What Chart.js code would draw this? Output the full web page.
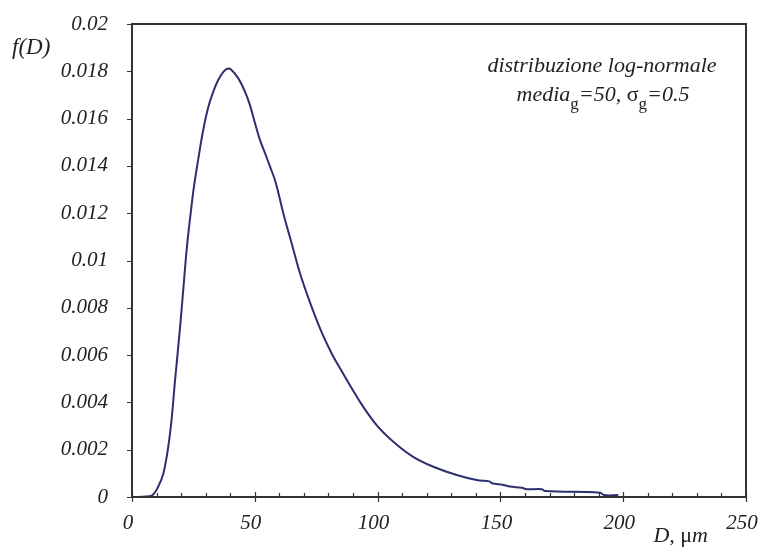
<!DOCTYPE html>
<html>
<head>
<meta charset="utf-8">
<script src="https://cdn.jsdelivr.net/npm/chart.js@4"></script>
<style>
  html, body { margin: 0; padding: 0; background: #fff; }
  #wrap { width: 760px; height: 548px; }
</style>
</head>
<body>
<div id="wrap"><canvas id="c" width="760" height="548"></canvas></div>
<script>
// values (D in µm, f(D))
const diameters = [2.5, 7, 8.5, 10, 12.8, 15.5, 17.5, 19.5, 20.9, 22.3, 24, 25.2, 27, 29, 31.1, 33.1, 35.1, 37.2, 38.8, 40.2,
  43.3, 46, 48, 50.1, 52.1, 54.2, 56.2, 58.5, 61.6, 65, 68.4, 72.5, 77.2, 81.3, 84.7, 92.8, 99.6, 106.4, 114.5, 122.7,
  132.2, 140.3, 145.8, 146.5, 151.2, 153.9, 158.7, 160.7, 166.8, 168.2, 190.6, 192.2, 198];
const density = [0, 0.00003, 0.0001, 0.0003, 0.001, 0.0027, 0.0049, 0.0071, 0.0088, 0.0105, 0.0121, 0.0131, 0.0143, 0.01552, 0.0165, 0.01714, 0.01763, 0.01798, 0.01811, 0.01809,
  0.0177, 0.01714, 0.01658, 0.0158, 0.0151, 0.01453, 0.01397, 0.0133, 0.012, 0.01073, 0.00946, 0.00822, 0.00697, 0.00607, 0.00544, 0.00403, 0.00304, 0.00234, 0.0017, 0.00128,
  0.00093, 0.00072, 0.00065, 0.00058, 0.00051, 0.00044, 0.00039, 0.00033, 0.00033, 0.00025, 0.00018, 0.00008, 0.00008];
const xRange = [0, 250], xStep = 50, xMinor = 10;
const yRange = [0, 0.02], yStep = 0.002;

const SERIF = "'Liberation Serif', 'DejaVu Serif', serif";
const INK = '#222';
const fmtY = (v) => String(+(+v).toFixed(3));

// box round the plot + the little tick marks (major ones cross the x axis, minor ones point inward)
const frame = {
  id: 'frame',
  afterDatasetsDraw(chart) {
    const { ctx, chartArea: a, scales: { x, y } } = chart;
    ctx.save();
    ctx.strokeStyle = '#333'; ctx.lineWidth = 2;
    ctx.strokeRect(a.left, a.top, a.right - a.left, a.bottom - a.top);
    ctx.lineWidth = 1.2; ctx.beginPath();
    for (let v = xRange[0]; v <= xRange[1]; v += xMinor) {
      const px = Math.round(x.getPixelForValue(v)) + 0.5;
      if (v % xStep === 0) { ctx.moveTo(px, a.bottom - 5); ctx.lineTo(px, a.bottom + 5); }
      else { ctx.moveTo(px, a.bottom - 4); ctx.lineTo(px, a.bottom); }
    }
    for (let i = 0; i <= Math.round((yRange[1] - yRange[0]) / yStep); i++) {
      const py = Math.round(y.getPixelForValue(yRange[0] + i * yStep)) + 0.5;
      ctx.moveTo(a.left - 5, py); ctx.lineTo(a.left, py);
    }
    ctx.stroke();
    ctx.restore();
  },
};

// axis names and the note in the top right corner
const notes = {
  id: 'notes',
  afterDraw(chart) {
    const { ctx } = chart;
    ctx.save();
    ctx.fillStyle = INK; ctx.textBaseline = 'alphabetic';
    const run = (parts, x, y, align) => {
      // parts: [text, font, dy]
      const w = parts.reduce((s, p) => { ctx.font = p[1]; return s + ctx.measureText(p[0]).width; }, 0);
      let cx = align === 'center' ? x - w / 2 : align === 'right' ? x - w : x;
      parts.forEach((p) => { ctx.font = p[1]; ctx.textAlign = 'left'; ctx.fillText(p[0], cx, y + (p[2] || 0)); cx += ctx.measureText(p[0]).width; });
    };
    const it = `italic 22px ${SERIF}`, up = `22px ${SERIF}`, sub = `17px ${SERIF}`;
    run([['f(D)', `italic 23px ${SERIF}`]], 12, 54, 'left');
    run([['distribuzione log-normale', it]], 602, 72, 'center');
    run([['media', it], ['g', sub, 8], ['=50, ', it], ['σ', up], ['g', sub, 8], ['=0.5', it]], 603, 101, 'center');
    run([['D, ', it], ['μ', up], ['m', it]], 708, 542, 'right');
    ctx.restore();
  },
};

new Chart(document.getElementById('c'), {
  type: 'scatter',
  data: {
    datasets: [{
      data: diameters.map((d, i) => ({ x: d, y: density[i] })),
      showLine: true, borderColor: '#2d2f6f', borderWidth: 2, pointRadius: 0,
      tension: 0.4, clip: 4,
    }],
  },
  options: {
    responsive: false, animation: false,
    layout: { padding: { top: 24, right: 14, left: 0, bottom: 0 } },
    plugins: { legend: { display: false }, tooltip: { enabled: false } },
    scales: {
      x: {
        type: 'linear', min: xRange[0], max: xRange[1],
        grid: { display: false }, border: { display: false },
        ticks: { stepSize: xStep, color: INK, padding: 6, labelOffset: -4, font: { family: SERIF, style: 'italic', size: 21 } },
        // labels may hang past the box; the outer padding is set by hand
        afterFit: (s) => { s.height = 51; s.paddingLeft = 0; s.paddingRight = 0; },
      },
      y: {
        min: yRange[0], max: yRange[1],
        grid: { display: false }, border: { display: false },
        ticks: { stepSize: yStep, color: INK, padding: 16, callback: fmtY, font: { family: SERIF, style: 'italic', size: 21 } },
        afterFit: (s) => { s.width = 132; s.paddingTop = 0; s.paddingBottom = 0; },
      },
    },
  },
  plugins: [frame, notes],
});
</script>
</body>
</html>
